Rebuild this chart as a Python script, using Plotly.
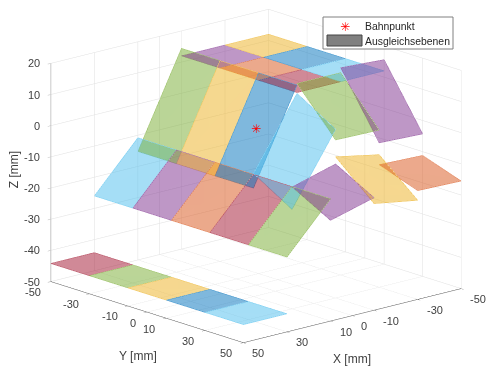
import plotly.graph_objects as go
import math

X_EDGES = [50, 30, 10, -10, -30, -50]
Y_EDGES = [-50, -30, -10, 10, 30, 50]
Z_TICKS = [-50, -40, -30, -20, -10, 0, 10, 20]
XY_TICKS = [-50, -30, -10, 0, 10, 30, 50]

BLUE = "#0072BD"; ORANGE = "#D95319"; YELLOW = "#EDB120"; PURPLE = "#7E2F8E"
GREEN = "#77AC30"; CYAN = "#4DBEEE"; RED = "#A2142F"

ROW_COLORS = [
    [RED, GREEN, YELLOW, BLUE, CYAN],
    [CYAN, PURPLE, ORANGE, RED, GREEN],
    [GREEN, YELLOW, BLUE, CYAN, PURPLE],
    [PURPLE, ORANGE, RED, GREEN, YELLOW],
    [YELLOW, BLUE, CYAN, PURPLE, ORANGE],
]
# corner heights: (Xnear,Ylow), (Xfar,Ylow), (Xfar,Yhigh), (Xnear,Yhigh)
ROW_Z = [
    [[-44.2]*4]*5,
    [[-26, -10.8, -10.8, -26]]*5,
    [[-15.2, 14.4, 14.4, -15.2]]*3 + [[-10.5, 11.7, 4.1, -18.1], [-10.9, -7.0, -13.9, -17.7]],
    [[12, 12, 12, 12]]*3 + [[14.9, 14.9, 0.4, 0.7], [-4.7, -7.5, -18.2, -15.8]],
    [[12, 12, 12, 12]]*3 + [[16.5, 15.6, -4.3, -3.7], [-10.7, -11.2, -15.5, -15.1]],
]
POINT_X = [0]; POINT_Y = [0]; POINT_Z = [0]
STAR = "\u2733"
TXT = "#404040"
FONT = "Liberation Sans"

def edge_color(h):
    rgb = [int(h[i:i+2], 16) for i in (1, 3, 5)]
    return "rgb(" + ",".join(str(int(v*0.8 + 255*0.2)) for v in rgb) + ")"

fig = go.Figure()
for r, colors in enumerate(ROW_COLORS):
    for c, col in enumerate(colors):
        xs = [X_EDGES[r], X_EDGES[r+1], X_EDGES[r+1], X_EDGES[r]]
        ys = [Y_EDGES[c], Y_EDGES[c], Y_EDGES[c+1], Y_EDGES[c+1]]
        zs = ROW_Z[r][c]
        fig.add_trace(go.Mesh3d(x=xs, y=ys, z=zs, i=[0, 0], j=[1, 2], k=[2, 3],
                                color=col, opacity=0.5, flatshading=True,
                                lighting=dict(ambient=1, diffuse=0, specular=0, roughness=1, fresnel=0),
                                hoverinfo="skip", showlegend=False))
        fig.add_trace(go.Scatter3d(x=xs+xs[:1], y=ys+ys[:1], z=list(zs)+[zs[0]], mode="lines",
                                   line=dict(color=edge_color(col), width=1),
                                   hoverinfo="skip", showlegend=False))

fig.add_trace(go.Scatter3d(x=POINT_X, y=POINT_Y, z=POINT_Z, mode="markers",
                           marker=dict(symbol="circle", size=1, color="#ff0000"),
                           showlegend=False, hoverinfo="skip"))

E = math.radians(16.3); A = math.radians(48.5); R = 1.5; ZOOM = 1.652

def tick_notes():
    out = []
    def note(x, y, z, text, dx, dy, size=11, angle=0, xanchor="center", color=TXT, family=FONT):
        out.append(dict(x=x, y=y, z=z, text=text, showarrow=False, xshift=dx, yshift=-dy,
                        xanchor=xanchor, yanchor="middle", textangle=angle,
                        font=dict(family=family, size=size, color=color)))
    for v in XY_TICKS:
        note(50, v, -50, str(v), -14 if v == 0 else (-18 if v < 0 else -17), 10.5)
        note(v, 50, -50, str(v), 11.5 if v == 0 else (17 if v < 0 else 15), 10.5)
    for v in Z_TICKS:
        note(50, -50, v, str(v), -9, 0, xanchor="right")
    note(50, 0, -50, "Y [mm]", -9, 44, size=12)
    note(0, 50, -50, "X [mm]", 0, 43, size=12)
    note(50, -50, -15, "Z [mm]", -36, -3, size=12, angle=-90)
    note(POINT_X[0], POINT_Y[0], POINT_Z[0], STAR, 0, 0, size=12, color="#ff0000", family="DejaVu Sans")
    return out

def axis_style(line, width):
    return dict(showbackground=False, gridcolor="#e0e0e0", gridwidth=1, zeroline=False,
                showline=True, linecolor=line, linewidth=width, ticks="outside", ticklen=4, tickcolor=line,
                showticklabels=False, tickmode="array", showspikes=False, title=dict(text=""))

def legend_text(x, y, text, family=FONT, color="#262626", anchor="left", size=10.4):
    return dict(xref="paper", yref="paper", x=x/500, y=1-y/376, text=text, showarrow=False,
                xanchor=anchor, yanchor="middle", font=dict(family=family, size=size, color=color))

fig.update_layout(
    width=500, height=376, margin=dict(l=0, r=0, t=0, b=0), paper_bgcolor="white",
    showlegend=False,
    shapes=[
        dict(type="rect", xref="paper", yref="paper", x0=323/500, x1=453/500, y0=1-17/376, y1=1-49/376,
             fillcolor="white", line=dict(color="#808080", width=1), layer="above"),
        dict(type="rect", xref="paper", yref="paper", x0=327/500, x1=362/500, y0=1-35/376, y1=1-46/376,
             fillcolor="#808080", line=dict(color="#444444", width=1), layer="above"),
    ],
    annotations=[legend_text(344.7, 27, STAR, family="DejaVu Sans", color="#ff0000", anchor="center", size=12),
                 legend_text(363, 27, "Bahnpunkt"), legend_text(363, 41, "Ausgleichsebenen")],
    scene=dict(
        domain=dict(x=[0.024, 1], y=[0.064, 1]),
        aspectmode="manual", aspectratio=dict(x=ZOOM, y=ZOOM, z=0.782*ZOOM),
        camera=dict(projection=dict(type="orthographic"),
                    up=dict(x=0, y=0, z=1), center=dict(x=0, y=0, z=0),
                    eye=dict(x=R*math.cos(E)*math.cos(A), y=R*math.cos(E)*math.sin(A), z=R*math.sin(E))),
        xaxis=dict(axis_style("#555555", 1), range=[-50, 50], tickvals=XY_TICKS),
        yaxis=dict(axis_style("#555555", 1), range=[-50, 50], tickvals=XY_TICKS),
        zaxis=dict(axis_style("#bbbbbb", 2), range=[-50, 20], tickvals=Z_TICKS),
        annotations=tick_notes(),
    ),
)
fig.write_html("out.html", config=dict(displayModeBar=False), post_script="document.body.style.margin='0';")
